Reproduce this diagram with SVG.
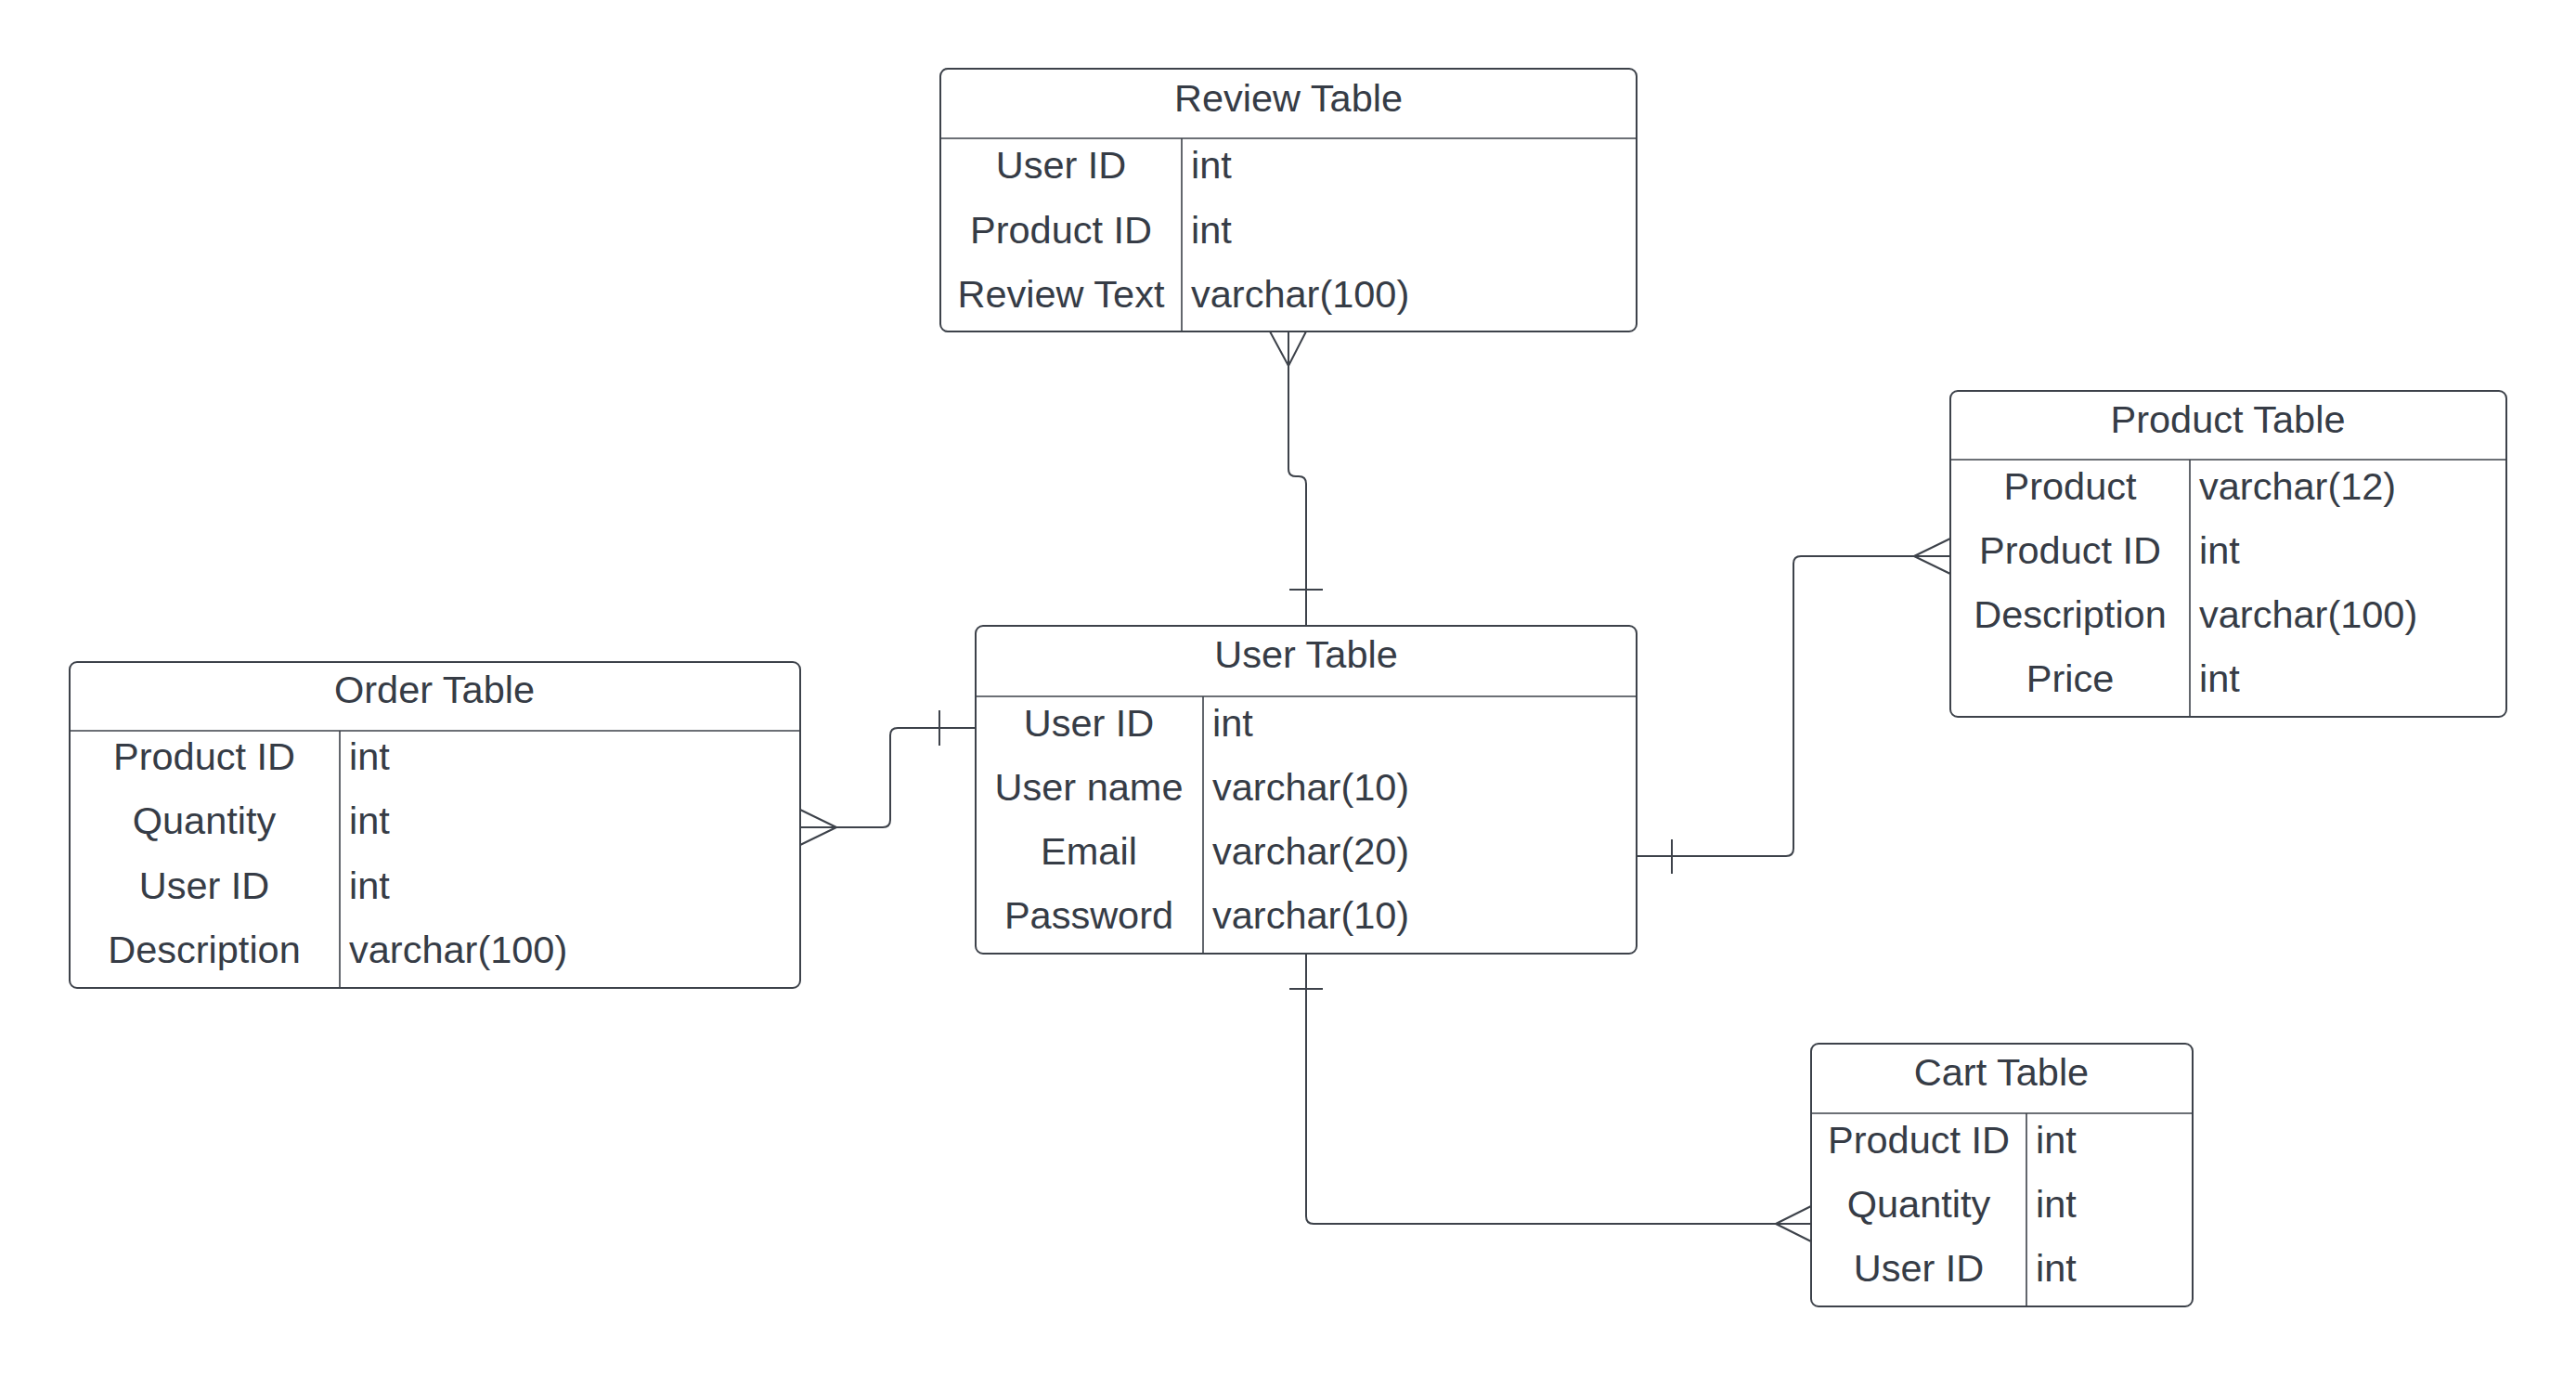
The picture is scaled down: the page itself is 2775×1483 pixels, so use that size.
<svg xmlns="http://www.w3.org/2000/svg" width="2775" height="1483" viewBox="0 0 2775 1483">
<style>
.box{fill:#ffffff;stroke:#3d424a;stroke-width:2}
.sep{fill:none;stroke:#3d424a;stroke-width:1.6}
.conn{fill:none;stroke:#3d424a;stroke-width:2;stroke-linejoin:round}
text{font-family:"Liberation Sans",Arial,sans-serif;font-size:41.5px;fill:#363c46}
.title{text-anchor:middle}
.name{text-anchor:middle}
.type{text-anchor:start}
</style>
<rect width="2775" height="1483" fill="#ffffff"/>
<g id="connectors">
<path class="conn" d="M1388 357 V505 q0 8 8 8 h3 q8 0 8 8 V674"/>
<path class="conn" d="M1368 357 L1388 394 L1407 357"/>
<path class="conn" d="M1389 635 H1425"/>
<path class="conn" d="M862 891 H951 q8 0 8 -8 V792 q0 -8 8 -8 H1051"/>
<path class="conn" d="M862 872 L901 891 L862 910"/>
<path class="conn" d="M1012 765 V803"/>
<path class="conn" d="M2101 599 H1940 q-8 0 -8 8 V914 q0 8 -8 8 H1763"/>
<path class="conn" d="M2101 580 L2062 599 L2101 618"/>
<path class="conn" d="M1801 904 V941"/>
<path class="conn" d="M1407 1027 V1310 q0 8 8 8 H1951"/>
<path class="conn" d="M1951 1299 L1913 1318 L1951 1337"/>
<path class="conn" d="M1389 1065 H1425"/>
</g>
<g id="review-table">
<rect class="box" x="1013" y="74" width="750" height="283" rx="8"/>
<path class="sep" d="M1013 149 H1763 M1273 149 V357"/>
<text class="title" x="1388" y="120">Review Table</text>
<text class="name" x="1143" y="192">User ID</text>
<text class="type" x="1283" y="192">int</text>
<text class="name" x="1143" y="262">Product ID</text>
<text class="type" x="1283" y="262">int</text>
<text class="name" x="1143" y="331">Review Text</text>
<text class="type" x="1283" y="331">varchar(100)</text>
</g>
<g id="user-table">
<rect class="box" x="1051" y="674" width="712" height="353" rx="8"/>
<path class="sep" d="M1051 750 H1763 M1296 750 V1027"/>
<text class="title" x="1407" y="719">User Table</text>
<text class="name" x="1173" y="793">User ID</text>
<text class="type" x="1306" y="793">int</text>
<text class="name" x="1173" y="862">User name</text>
<text class="type" x="1306" y="862">varchar(10)</text>
<text class="name" x="1173" y="931">Email</text>
<text class="type" x="1306" y="931">varchar(20)</text>
<text class="name" x="1173" y="1000">Password</text>
<text class="type" x="1306" y="1000">varchar(10)</text>
</g>
<g id="order-table">
<rect class="box" x="75" y="713" width="787" height="351" rx="8"/>
<path class="sep" d="M75 787 H862 M366 787 V1064"/>
<text class="title" x="468" y="757">Order Table</text>
<text class="name" x="220" y="829">Product ID</text>
<text class="type" x="376" y="829">int</text>
<text class="name" x="220" y="898">Quantity</text>
<text class="type" x="376" y="898">int</text>
<text class="name" x="220" y="968">User ID</text>
<text class="type" x="376" y="968">int</text>
<text class="name" x="220" y="1037">Description</text>
<text class="type" x="376" y="1037">varchar(100)</text>
</g>
<g id="product-table">
<rect class="box" x="2101" y="421" width="599" height="351" rx="8"/>
<path class="sep" d="M2101 495 H2700 M2359 495 V772"/>
<text class="title" x="2400" y="466">Product Table</text>
<text class="name" x="2230" y="538">Product</text>
<text class="type" x="2369" y="538">varchar(12)</text>
<text class="name" x="2230" y="607">Product ID</text>
<text class="type" x="2369" y="607">int</text>
<text class="name" x="2230" y="676">Description</text>
<text class="type" x="2369" y="676">varchar(100)</text>
<text class="name" x="2230" y="745">Price</text>
<text class="type" x="2369" y="745">int</text>
</g>
<g id="cart-table">
<rect class="box" x="1951" y="1124" width="411" height="283" rx="8"/>
<path class="sep" d="M1951 1199 H2362 M2183 1199 V1407"/>
<text class="title" x="2156" y="1169">Cart Table</text>
<text class="name" x="2067" y="1242">Product ID</text>
<text class="type" x="2193" y="1242">int</text>
<text class="name" x="2067" y="1311">Quantity</text>
<text class="type" x="2193" y="1311">int</text>
<text class="name" x="2067" y="1380">User ID</text>
<text class="type" x="2193" y="1380">int</text>
</g>
</svg>
